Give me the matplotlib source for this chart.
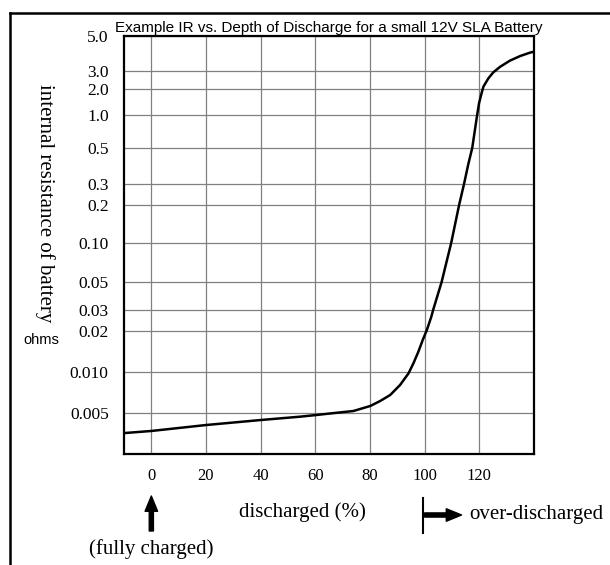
import matplotlib
matplotlib.use('Agg')
import matplotlib.pyplot as plt
import numpy as np
from matplotlib.lines import Line2D

# depth of discharge (%) and internal resistance (ohms)
discharged = [-10, 0, 20, 40, 54.5, 60.2, 66.6, 73.9, 80.1, 83.7, 87.4, 91.0, 94.1,
              95.9, 97.7, 99.3, 100.8, 102.4, 103.1, 106.2, 109.7, 112.6, 114.4,
              116.0, 117.4, 119.2, 119.9, 120.8, 121.5, 123.3, 125.1,
              127.6, 131.2, 134.9, 138.5, 140]
resistance = [0.00356, 0.00369, 0.00408, 0.00444, 0.00470, 0.00483, 0.00499, 0.00517,
              0.00563, 0.00612, 0.00678, 0.00803, 0.00978, 0.0116, 0.0141, 0.0172,
              0.0204, 0.0262, 0.030, 0.050, 0.10, 0.20, 0.30, 0.40, 0.50,
              1.0, 1.37, 1.78, 2.11, 2.54, 2.91, 3.19, 3.49, 3.73, 3.92, 3.98]

x_ticks = [0, 20, 40, 60, 80, 100, 120]
y_ticks = [5.0, 3.0, 2.0, 1.0, 0.5, 0.3, 0.2, 0.1, 0.05, 0.03, 0.02, 0.01, 0.005]
y_labels = ['5.0', '3.0', '2.0', '1.0', '0.5', '0.3', '0.2', '0.10', '0.05',
            '0.03', '0.02', '0.010', '0.005']

# the printed y scale is a hand drawn "log" scale, rows of each grid line (px)
scale_vals = np.array([0.0025, 0.005, 0.01, 0.02, 0.03, 0.05, 0.1, 0.2, 0.3, 0.5, 1.0, 2.0, 3.0, 5.0])
scale_rows = np.array([454, 413, 372, 331, 310, 282, 243, 205, 184, 148, 115, 89, 71, 36])
scale_log = np.log10(scale_vals)
scale_pos = (454 - scale_rows) / 418.0


def fwd(v):
    v = np.clip(np.asarray(v, dtype=float), 1e-6, None)
    return np.interp(np.log10(v), scale_log, scale_pos)


def inv(p):
    return 10 ** np.interp(np.asarray(p, dtype=float), scale_pos, scale_log)


serif = 'Liberation Serif'
sans = 'Liberation Sans'

W, H = 610, 565
fig = plt.figure(figsize=(W / 100, H / 100), dpi=100)
ax = fig.add_axes([124 / W, 1 - 454 / H, 410 / W, 418 / H])

ax.set_yscale('function', functions=(fwd, inv))
ax.plot(discharged, resistance, color='black', lw=1.8,
        solid_capstyle='round', solid_joinstyle='round')

ax.set_xlim(-10, 140)
ax.set_ylim(0.0025, 5.0)
ax.set_xticks(x_ticks)
ax.set_xticklabels([str(t) for t in x_ticks], family=serif, fontsize=12)
ax.set_yticks(y_ticks)
ax.set_yticklabels(y_labels, family=serif, fontsize=12.5)
ax.tick_params(axis='both', length=0)
ax.tick_params(axis='y', pad=11)
ax.tick_params(axis='x', pad=10)
ax.grid(True, color='#808080', lw=0.9)
for s in ax.spines.values():
    s.set_linewidth(1.6)

ax.set_title('Example IR vs. Depth of Discharge for a small 12V SLA Battery',
             family=sans, fontsize=11, pad=3)

# outer frame (top and left edges only)
fig.add_artist(Line2D([10 / W, 10 / W], [0, 1 - 13 / H], color='black', lw=1.8))
fig.add_artist(Line2D([10 / W, 1], [1 - 13 / H, 1 - 13 / H], color='black', lw=1.8))

fig.text(45 / W, 1 - 203 / H, 'internal resistance of battery', rotation=-90,
         family=serif, fontsize=15, ha='center', va='center')
fig.text(41 / W, 1 - 340 / H, 'ohms', family=sans, fontsize=10.5, ha='center', va='center')
fig.text(302 / W, 1 - 512 / H, 'discharged (%)', family=serif, fontsize=15,
         ha='center', va='center')

# fully charged arrow
ax.annotate('', xy=(0, H - 496), xytext=(0, H - 531),
            xycoords=('data', 'figure pixels'), textcoords=('data', 'figure pixels'),
            arrowprops=dict(facecolor='black', edgecolor='black', width=3,
                            headwidth=9, headlength=11), annotation_clip=False)
ax.annotate('(fully charged)', xy=(0, H - 549), xycoords=('data', 'figure pixels'),
            ha='center', va='center', family=serif, fontsize=15, annotation_clip=False)

# over-discharged marker
fig.add_artist(Line2D([423 / W, 423 / W], [1 - 533 / H, 1 - 498 / H], color='black', lw=1.5))
ax.annotate('', xy=(113.5, H - 515), xytext=(100, H - 515),
            xycoords=('data', 'figure pixels'), textcoords=('data', 'figure pixels'),
            arrowprops=dict(facecolor='black', edgecolor='black', width=3,
                            headwidth=9, headlength=11, shrink=0), annotation_clip=False)
fig.text(469 / W, 1 - 515 / H, 'over-discharged', family=serif, fontsize=15,
         ha='left', va='center')

fig.savefig('out.png', dpi=100)
